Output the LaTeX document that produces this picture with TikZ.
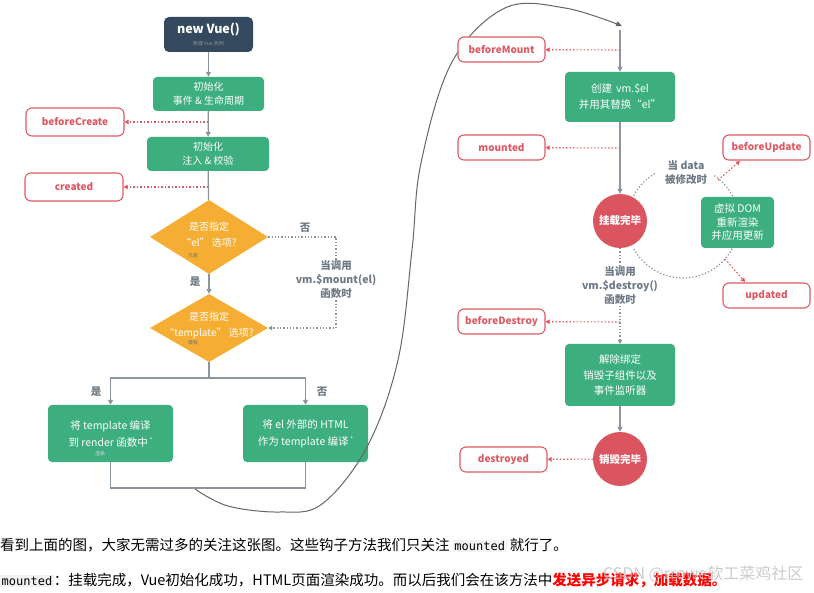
\documentclass[tikz,border=0pt]{standalone}
\usepackage{fontspec}
\setmainfont{Noto Sans CJK SC}
\setmonofont{DejaVu Sans Mono}
\usetikzlibrary{shapes.geometric,arrows.meta}
\definecolor{vgreen}{HTML}{3DAE7E}
\definecolor{vdark}{HTML}{34495E}
\definecolor{hookred}{HTML}{DD5A64}
\definecolor{circred}{HTML}{DB5561}
\definecolor{vorange}{HTML}{F5AE33}
\definecolor{lgray}{HTML}{8C959E}
\definecolor{tgray}{HTML}{6E7A86}
\definecolor{codebg}{HTML}{F2F2F2}
\newcommand\fs[2]{\fontsize{#1}{#2}\selectfont}
\newcommand\codebox[1]{{\setlength\fboxsep{1.5pt}\colorbox{codebg}{\ttfamily\fs{12}{14}#1}}}
\newcommand\astx{\,\raisebox{4pt}{\fs{6}{6}*}}
\begin{document}
\begin{tikzpicture}[x=1pt,y=-1pt,
  gbox/.style={fill=vgreen, rounded corners=4pt, text=white, align=center, inner sep=0pt, font=\fs{10}{14}},
  hook/.style={draw=hookred, line width=1.1pt, rounded corners=6pt, fill=white, text=hookred, font=\bfseries\fs{10}{12}, minimum width=87, minimum height=25, inner sep=0pt},
  dia/.style={diamond, fill=vorange, aspect=1.6, inner sep=0pt},
  diatext/.style={text=white, align=center, font=\fs{10}{16}, inner sep=0pt},
  circ/.style={circle, fill=circred, minimum size=54, inner sep=0pt, text=white, font=\bfseries\fs{10.5}{12}},
  garrow/.style={draw=lgray, line width=1.3pt, -{Triangle[length=5pt,width=5pt]}},
  gline/.style={draw=lgray, line width=1.3pt},
  gdot/.style={draw=lgray, line width=1.2pt, dash pattern=on 1.3pt off 2pt},
  hookline/.style={draw=hookred, line width=1.1pt, dash pattern=on 1.5pt off 2pt, -{Triangle[length=4pt,width=4.5pt]}},
  gtext/.style={text=tgray, font=\bfseries\fs{10.5}{14}, align=center, inner sep=1pt},
  tiny/.style={font=\fs{5}{6}, inner sep=0pt}
]
\useasboundingbox (0,0) rectangle (814,593);
\fill[white] (0,0) rectangle (814,593);

% ---------- left column ----------
\node[fill=vdark, rounded corners=5pt, minimum width=89, minimum height=35, inner sep=0pt] (vue) at (208.5,34.5) {};
\node[text=white, font=\bfseries\fs{12.5}{14}, inner sep=0pt] (vuet) at (208.5,30) {new Vue()};
\node[tiny, text=lgray] (vuesub) at (208.5,43.5) {新建 Vue 实例};

\node[gbox, minimum width=111, minimum height=34] (init1) at (208.5,94) {初始化\\事件 \& 生命周期};
\node[gbox, minimum width=122, minimum height=34] (init2) at (208,154) {初始化\\注入 \& 校验};

\node[hook, minimum width=98, minimum height=28] (bc) at (75,122) {beforeCreate};
\node[hook, minimum width=98, minimum height=28] (cr) at (74,187) {created};

\node[dia, minimum width=118, minimum height=74] (d1) at (209,237) {};
\node[diatext] (d1t) at (209,235) {是否指定\\“el” 选项?};
\node[tiny, text=black!55] (d1s) at (193,256) {元素};
\node[dia, minimum width=118, minimum height=68] (d2) at (209,328) {};
\node[diatext] (d2t) at (209,325) {是否指定\\“template” 选项?};
\node[tiny, text=black!55] (d2s) at (193,343) {模板};

\node[gbox, minimum width=125, minimum height=57, font=\fs{10.5}{17}] (tpl) at (110.5,433.5) {将 template 编译\\到 render 函数中\astx};
\node[tiny, text=white!85!black] (tpls) at (100,454) {渲染};
\node[gbox, minimum width=125, minimum height=57, font=\fs{10.5}{17}] (html) at (305.5,433.5) {将 el 外部的 HTML\\作为 template 编译\astx};

\draw[garrow] (vue) -- (init1);
\draw[garrow] (init1) -- (init2);
\draw[gline] (init2) -- (d1);
\draw[hookline] (208,122) -- (bc);
\draw[hookline] (208,187) -- (cr);
\draw[garrow] (d1) -- (d2);
\node[gtext] (yes1) at (195,282) {是};
\node[gtext] (no1) at (305,228) {否};
\node[gtext] (mtext) at (336,280) {当调用\\vm.\$mount(el)\\函数时};
\draw[gdot] (d1.east) -| (mtext.north);
\draw[gdot, -{Triangle[length=4pt,width=4.5pt]}] (mtext.south) |- (d2.east);

\coordinate (split) at (209,378);
\draw[gline] (d2.south) -- (split);
\draw[garrow] (split) -| (tpl.north);
\draw[garrow] (split) -| (html.north);
\node[gtext] (yes2) at (96,392) {是};
\node[gtext] (no2) at (322,392) {否};
\coordinate (merge) at (209,488);
\draw[gline] (tpl.south) |- (merge);
\draw[gline] (html.south) |- (merge);

% ---------- big curve ----------
\coordinate (cstart) at (195,489);
\coordinate (cend) at (622,26);
\draw[draw=black!60, line width=1pt, -{Triangle[length=6pt,width=5pt]}]
  plot[smooth, tension=0.6] coordinates {(195,489) (228,506) (280,512) (322,504) (367,447) (398,360) (412,250) (421,163) (452,62) (505,8) (565,8) (622,26)};

% ---------- right column ----------
\draw[gdot] (633.6,195.7) arc[start angle=-152, end angle=-119, radius=56];
\draw[gdot] (714.3,175.6) arc[start angle=-56, end angle=151, radius=56];

\coordinate (ctop) at (620,30);
\node[gbox, minimum width=110, minimum height=50, font=\fs{10.5}{16}] (create) at (620,97) {创建 \,vm.\$el\\并用其替换“el”};
\node[hook] (bm) at (501.5,49.5) {beforeMount};
\node[hook] (mo) at (501.5,147.5) {mounted};
\node[circ] (mc) at (620,221) {挂载完毕};
\node[gbox, minimum width=73, minimum height=51, font=\fs{10.5}{13.5}] (upd) at (737.5,222.5) {虚拟 DOM\\重新渲染\\并应用更新};
\node[hook] (bu) at (766.5,147.5) {beforeUpdate};
\node[hook] (ud) at (766.5,295.5) {updated};
\node[gtext] (dtext) at (686,173) {当 data\\被修改时};

\draw[garrow] (ctop) -- (create);
\draw[hookline] (620,50) -- (bm);
\draw[hookline] (620,148) -- (mo);
\draw[garrow] (create) -- (mc);
\coordinate (upa) at (718,180);
\coordinate (upb) at (740,161);
\draw[hookline] (upa) -- (upb);
\coordinate (upc) at (725,259);
\coordinate (upe) at (745,282);
\draw[hookline] (upc) -- (upe);

\node[gtext] (destxt) at (620,285.5) {当调用\\vm.\$destroy()\\函数时};
\node[gbox, minimum width=110, minimum height=62, font=\fs{10.5}{15.5}] (unb) at (620,375) {解除绑定\\销毁子组件以及\\事件监听器};
\node[hook] (bd) at (501.5,321.5) {beforeDestroy};
\node[circ] (dc) at (620,459) {销毁完毕};
\node[hook] (de) at (503.5,459.5) {destroyed};

\draw[gdot] (mc) -- (destxt);
\draw[gdot, -{Triangle[length=4pt,width=4.5pt]}] (destxt) -- (unb);
\draw[hookline] (620,322) -- (bd);
\draw[garrow] (unb) -- (dc);
\draw[hookline] (dc) -- (de);

% ---------- bottom text ----------
\node[anchor=west, inner sep=0pt, font=\fs{14.5}{16}] (line1) at (0,545) {看到上面的图，大家无需过多的关注这张图。这些钩子方法我们只关注 \codebox{mounted} 就行了。};
\node[anchor=west, inner sep=0pt, font=\fs{14.5}{16}] (line2) at (0,580) {\codebox{mounted}：挂载完成，Vue初始化成功，HTML页面渲染成功。而以后我们会在该方法中{\color{red}\bfseries 发送异步请求，加载数据。}};
\node[anchor=west, inner sep=0pt, text=black!25, opacity=0.8, font=\fs{16}{18}] (wm) at (603,574) {CSDN @rrowe软工菜鸡社区};
\end{tikzpicture}
\end{document}
